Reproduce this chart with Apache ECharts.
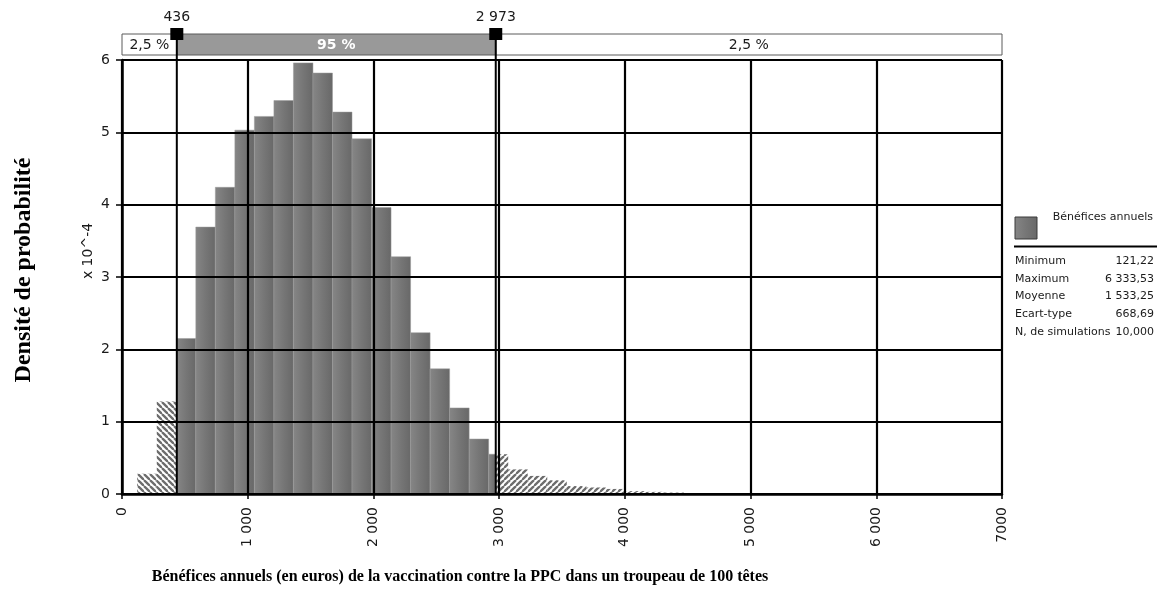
<!DOCTYPE html>
<html><head><meta charset="utf-8">
<script src="https://cdn.jsdelivr.net/npm/echarts@6/dist/echarts.min.js"></script>
<style>html,body{margin:0;padding:0;background:#fff}#c{width:1165px;height:589px}</style>
</head><body><div id="c"></div>
<script>
// ---- data ----
const binEdges = [121.22, 276.53, 431.84, 587.14, 742.45, 897.76, 1053.07, 1208.38, 1363.68, 1518.99,
  1674.30, 1829.61, 1984.91, 2140.22, 2295.53, 2450.84, 2606.14, 2761.45, 2916.76, 3072.07,
  3227.38, 3382.68, 3537.99, 3693.30, 3848.61, 4003.91, 4159.22, 4314.53, 4469.84, 4625.15,
  4780.45, 4935.76, 5091.07];
const density = [0.28, 1.28, 2.15, 3.69, 4.24, 5.03, 5.22, 5.44, 5.96, 5.82,
  5.28, 4.91, 3.96, 3.28, 2.23, 1.73, 1.19, 0.76, 0.55, 0.34,
  0.25, 0.19, 0.11, 0.09, 0.07, 0.04, 0.03, 0.02, 0.01, 0,
  0, 0.01];
const percentiles = [436, 2973];
const percentileLabels = ['436', '2 973'];
const bandLabels = ['2,5 %', '95 %', '2,5 %'];
const xTickLabels = ['0', '1 000', '2 000', '3 000', '4 000', '5 000', '6 000', '7000'];
const yTickLabels = ['0', '1', '2', '3', '4', '5', '6'];
const seriesName = 'Bénéfices annuels';
const statNames = ['Minimum', 'Maximum', 'Moyenne', 'Ecart-type', 'N, de simulations'];
const statValues = ['121,22', '6 333,53', '1 533,25', '668,69', '10,000'];
const xMin = 0, xMax = 7000, yMin = 0, yMax = 6;
const yAxisTitle = 'Densité de probabilité';
const yUnit = 'x 10^-4';
const xAxisTitle = 'Bénéfices annuels (en euros) de la vaccination contre la PPC dans un troupeau de 100 têtes';

// ---- styles ----
const SANS = '"DejaVu Sans", Verdana, sans-serif';
const SERIF = '"Liberation Serif", "Times New Roman", serif';
function hatch(dir) {
  const s = 6, c = document.createElement('canvas');
  c.width = s; c.height = s;
  const g = c.getContext('2d');
  g.fillStyle = '#ffffff'; g.fillRect(0, 0, s, s);
  g.strokeStyle = '#6c6c6c'; g.lineWidth = 2.3;
  for (let k = -1; k <= 1; k++) {
    g.beginPath();
    if (dir === 'back') { g.moveTo(k * s, 0); g.lineTo(k * s + s, s); }
    else { g.moveTo(k * s + s, 0); g.lineTo(k * s, s); }
    g.stroke();
  }
  return c;
}
const leftPattern = { image: hatch('back'), repeat: 'repeat' };
const rightPattern = { image: hatch('fwd'), repeat: 'repeat' };
const solidFill = { type: 'linear', x: 0, y: 0, x2: 1, y2: 0, colorStops: [
  { offset: 0, color: '#868686' }, { offset: 0.5, color: '#767676' }, { offset: 1, color: '#686868' }] };

const histData = density.map((h, i) => [binEdges[i], binEdges[i + 1], h]);
const bandBounds = [xMin, percentiles[0], percentiles[1], xMax];
const bandData = bandLabels.map((t, i) => [bandBounds[i], bandBounds[i + 1], i]);
const markerData = percentiles.map((p, i) => ({ value: [p, 1], label: { formatter: percentileLabels[i] } }));
const bandGap = 5;

const chart = echarts.init(document.getElementById('c'), null, { renderer: 'canvas' });
chart.setOption({
  animation: false,
  backgroundColor: '#ffffff',
  grid: [
    { left: 122, right: 163, top: 60, bottom: 95 },
    { left: 122, right: 163, top: 34, height: 26 }
  ],
  xAxis: [
    { type: 'value', gridIndex: 0, min: xMin, max: xMax, interval: 1000, z: 10,
      axisLine: { show: true, onZero: false, lineStyle: { color: '#000', width: 2.5 } },
      axisTick: { show: true, length: 5, lineStyle: { color: '#000', width: 1.5 } },
      splitLine: { show: true, lineStyle: { color: '#000', width: 2.2 } },
      axisLabel: { rotate: 90, margin: 13, fontSize: 14, color: '#1a1a1a', fontFamily: SANS,
        formatter: v => xTickLabels[Math.round(v / 1000)] } },
    { type: 'value', gridIndex: 1, min: xMin, max: xMax, show: false }
  ],
  yAxis: [
    { type: 'value', gridIndex: 0, min: yMin, max: yMax, interval: 1, z: 10,
      axisLine: { show: true, lineStyle: { color: '#000', width: 2.5 } },
      axisTick: { show: true, length: 6, lineStyle: { color: '#000', width: 1.5 } },
      splitLine: { show: true, lineStyle: { color: '#000', width: 2.2 } },
      axisLabel: { margin: 12, fontSize: 14, color: '#1a1a1a', fontFamily: SANS,
        formatter: v => yTickLabels[Math.round(v)] } },
    { type: 'value', gridIndex: 1, min: 0, max: 1, show: false }
  ],
  series: [
    { type: 'custom', name: seriesName, xAxisIndex: 0, yAxisIndex: 0, z: 2,
      encode: { x: [0, 1], y: 2 },
      data: histData,
      renderItem(params, api) {
        const x0 = api.value(0), x1 = api.value(1), h = api.value(2);
        if (!(h > 0)) return null;
        const cuts = [x0];
        percentiles.forEach(p => { if (p > x0 && p < x1) cuts.push(p); });
        cuts.push(x1);
        const children = [];
        for (let k = 0; k < cuts.length - 1; k++) {
          const a = cuts[k], b = cuts[k + 1], mid = (a + b) / 2;
          const tl = api.coord([a, h]), br = api.coord([b, 0]);
          const solid = mid > percentiles[0] && mid < percentiles[1];
          children.push({ type: 'rect',
            shape: { x: tl[0], y: tl[1], width: br[0] - tl[0], height: br[1] - tl[1] },
            style: solid ? { fill: solidFill, stroke: '#9a9a9a', lineWidth: 0.5 }
                         : { fill: mid < percentiles[0] ? leftPattern : rightPattern } });
        }
        return { type: 'group', children };
      } },
    { type: 'custom', name: 'pct-lines', xAxisIndex: 0, yAxisIndex: 0, z: 20, silent: true,
      data: percentiles.map(p => [p]),
      renderItem(params, api) {
        const a = api.coord([api.value(0), yMin]), b = api.coord([api.value(0), yMax]);
        return { type: 'line', shape: { x1: a[0], y1: a[1], x2: b[0], y2: b[1] },
          style: { stroke: '#000', lineWidth: 2 } };
      } },
    { type: 'custom', name: 'band', xAxisIndex: 1, yAxisIndex: 1, z: 5, silent: true,
      data: bandData,
      renderItem(params, api) {
        const a = api.value(0), b = api.value(1), idx = api.value(2);
        const tl = api.coord([a, 1]), br = api.coord([b, 0]);
        const mid = idx === 1;
        const hgt = br[1] - tl[1] - bandGap;
        return { type: 'group', children: [
          { type: 'rect', shape: { x: tl[0], y: tl[1], width: br[0] - tl[0], height: hgt },
            style: { fill: mid ? '#999999' : '#ffffff', stroke: '#5a5a5a', lineWidth: 1 } },
          { type: 'text', z2: 5, style: { text: bandLabels[idx], x: (tl[0] + br[0]) / 2, y: tl[1] + hgt / 2 + 1,
            align: 'center', verticalAlign: 'middle', fill: mid ? '#ffffff' : '#1a1a1a',
            font: (mid ? 'bold ' : '') + '14px ' + SANS } }
        ] };
      } },
    { type: 'custom', name: 'band-lines', xAxisIndex: 1, yAxisIndex: 1, z: 20, silent: true,
      data: percentiles.map(p => [p]),
      renderItem(params, api) {
        const a = api.coord([api.value(0), 0]), b = api.coord([api.value(0), 1]);
        return { type: 'line', shape: { x1: a[0], y1: a[1], x2: b[0], y2: b[1] },
          style: { stroke: '#000', lineWidth: 2 } };
      } },
    { type: 'scatter', name: 'markers', xAxisIndex: 1, yAxisIndex: 1, z: 25, silent: true,
      symbol: 'rect', symbolSize: [13, 12],
      itemStyle: { color: '#000', opacity: 1 },
      label: { show: true, position: 'top', distance: 4, fontSize: 14, color: '#1a1a1a', fontFamily: SANS },
      data: markerData }
  ],
  graphic: [
    { type: 'text', rotation: Math.PI / 2, x: 24, y: 270,
      style: { text: yAxisTitle, align: 'center', verticalAlign: 'middle',
        font: 'bold 24px ' + SERIF, fill: '#000' } },
    { type: 'text', rotation: Math.PI / 2, x: 88, y: 251,
      style: { text: yUnit, align: 'center', verticalAlign: 'middle', font: '14px ' + SANS, fill: '#1a1a1a' } },
    { type: 'text', x: 460, y: 577,
      style: { text: xAxisTitle, align: 'center', verticalAlign: 'middle', font: 'bold 16px ' + SERIF, fill: '#000' } },
    { type: 'rect', shape: { x: 1015, y: 217, width: 22, height: 22 },
      style: { fill: solidFill, stroke: '#3a3a3a', lineWidth: 1 } },
    { type: 'text', x: 1153, y: 217,
      style: { text: seriesName, align: 'right', verticalAlign: 'middle', font: '11px ' + SANS, fill: '#1a1a1a' } },
    { type: 'line', shape: { x1: 1014, y1: 246.5, x2: 1157, y2: 246.5 }, style: { stroke: '#000', lineWidth: 2 } },
    ...statNames.map((n, i) => ({ type: 'text', x: 1015, y: 261 + i * 17.7,
      style: { text: n, align: 'left', verticalAlign: 'middle', font: '11px ' + SANS, fill: '#1a1a1a' } })),
    ...statValues.map((v, i) => ({ type: 'text', x: 1154, y: 261 + i * 17.7,
      style: { text: v, align: 'right', verticalAlign: 'middle', font: '11px ' + SANS, fill: '#1a1a1a' } }))
  ]
});
</script></body></html>
